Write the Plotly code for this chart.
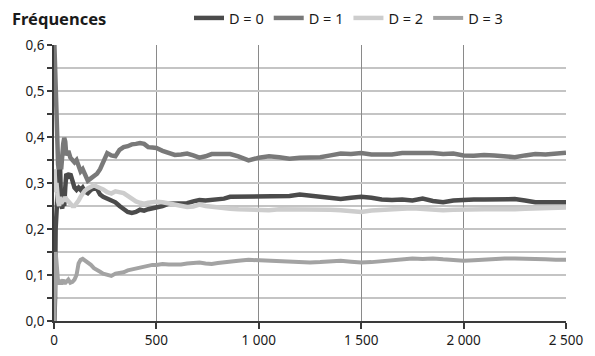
import plotly.graph_objects as go

trials = [2, 5, 8, 12, 16, 20, 25, 30, 35, 40, 45, 50, 55, 60, 70, 80, 90, 100, 110, 120,
          130, 140, 150, 165, 180, 195, 210, 225, 240, 260, 280, 300, 320, 340, 360, 380,
          400, 420, 440, 460, 480, 500, 530, 560, 590, 620, 650, 680, 710, 740, 770, 800,
          830, 860, 900, 950, 1000, 1050, 1100, 1150, 1200, 1250, 1300, 1350, 1400, 1450,
          1500, 1550, 1600, 1650, 1700, 1750, 1800, 1850, 1900, 1950, 2000, 2050, 2100,
          2150, 2200, 2250, 2300, 2350, 2400, 2450, 2500]

d0 = [0.0, 0.05, 0.2, 0.26, 0.25, 0.30, 0.345, 0.33, 0.25, 0.245, 0.26, 0.25, 0.29, 0.32,
      0.315, 0.32, 0.305, 0.29, 0.285, 0.29, 0.285, 0.29, 0.282, 0.278, 0.285, 0.288, 0.287,
      0.275, 0.27, 0.266, 0.262, 0.258, 0.25, 0.243, 0.237, 0.235, 0.237, 0.242, 0.24, 0.243,
      0.245, 0.246, 0.25, 0.255, 0.256, 0.257, 0.256, 0.26, 0.263, 0.262, 0.263, 0.264, 0.266,
      0.27, 0.27, 0.271, 0.271, 0.272, 0.27, 0.272, 0.275, 0.272, 0.27, 0.268, 0.265, 0.268,
      0.27, 0.268, 0.264, 0.263, 0.264, 0.262, 0.266, 0.261, 0.258, 0.262, 0.264, 0.264, 0.264,
      0.264, 0.265, 0.265, 0.262, 0.258, 0.258, 0.258, 0.258]

d1 = [0.60, 0.55, 0.50, 0.42, 0.36, 0.34, 0.33, 0.35, 0.33, 0.37, 0.385, 0.398, 0.39, 0.36,
      0.37, 0.355, 0.35, 0.345, 0.35, 0.335, 0.325, 0.33, 0.32, 0.305, 0.31, 0.315, 0.32,
      0.33, 0.345, 0.365, 0.36, 0.358, 0.372, 0.378, 0.38, 0.384, 0.385, 0.387, 0.385, 0.378,
      0.377, 0.376, 0.37, 0.366, 0.361, 0.362, 0.364, 0.36, 0.355, 0.358, 0.363, 0.363, 0.362,
      0.363, 0.358, 0.349, 0.355, 0.358, 0.356, 0.353, 0.355, 0.355, 0.356, 0.36, 0.364, 0.363,
      0.365, 0.362, 0.361, 0.362, 0.365, 0.366, 0.365, 0.365, 0.363, 0.364, 0.36, 0.359, 0.361,
      0.36, 0.358, 0.356, 0.36, 0.363, 0.362, 0.364, 0.366]

d2 = [0.33, 0.30, 0.28, 0.30, 0.27, 0.26, 0.25, 0.27, 0.255, 0.26, 0.265, 0.26, 0.27, 0.265,
      0.26, 0.255, 0.25, 0.25, 0.255, 0.262, 0.27, 0.278, 0.283, 0.288, 0.293, 0.295, 0.292,
      0.29, 0.286, 0.28, 0.277, 0.282, 0.28, 0.278, 0.272, 0.265, 0.26, 0.257, 0.255, 0.257,
      0.258, 0.259, 0.258, 0.255, 0.252, 0.25, 0.248, 0.249, 0.253, 0.25, 0.248, 0.247, 0.245,
      0.244, 0.243, 0.242, 0.241, 0.241, 0.243, 0.243, 0.244, 0.244, 0.244, 0.242, 0.241, 0.238,
      0.237, 0.24, 0.242, 0.243, 0.244, 0.245, 0.243, 0.241, 0.241, 0.242, 0.243, 0.243, 0.243,
      0.243, 0.242, 0.243, 0.244, 0.245, 0.245, 0.246, 0.247]

d3 = [0.0, 0.1, 0.15, 0.13, 0.1, 0.085, 0.08, 0.09, 0.08, 0.085, 0.09, 0.08, 0.088, 0.085,
      0.09, 0.083, 0.085, 0.09, 0.1, 0.125, 0.133, 0.135, 0.132, 0.127, 0.122, 0.115, 0.11,
      0.107, 0.103, 0.1, 0.098, 0.103, 0.104, 0.106, 0.11, 0.112, 0.115, 0.118, 0.12, 0.121,
      0.122, 0.122, 0.124, 0.123, 0.122, 0.123, 0.125, 0.126, 0.127, 0.125, 0.124, 0.126, 0.128,
      0.129, 0.131, 0.133, 0.132, 0.13, 0.129, 0.128, 0.128, 0.127, 0.128, 0.13, 0.131, 0.129,
      0.127, 0.128, 0.13, 0.133, 0.134, 0.136, 0.135, 0.136, 0.134, 0.132, 0.131, 0.132, 0.134,
      0.135, 0.136, 0.136, 0.136, 0.135, 0.134, 0.133, 0.133]

series_names = ["D = 0", "D = 1", "D = 2", "D = 3"]
series_colors = ["#4b4b4b", "#797979", "#cdcdcd", "#a3a3a3"]
series_widths = [4.5, 4.5, 4.5, 4]

x_ticks = [0, 500, 1000, 1500, 2000, 2500]
x_labels = ["0", "500", "1 000", "1 500", "2 000", "2 500"]
y_ticks = [0.0, 0.1, 0.2, 0.3, 0.4, 0.5, 0.6]
y_labels = ["0,0", "0,1", "0,2", "0,3", "0,4", "0,5", "0,6"]

FONT = "Noto Sans"
OFF = 8  # default page body margin

fig = go.Figure()
for name, vals, col, w in zip(series_names, [d0, d1, d2, d3], series_colors, series_widths):
    fig.add_trace(go.Scatter(x=trials, y=vals, mode="lines", name=name,
                             line=dict(color=col, width=w)))

fig.update_layout(
    width=595, height=356,
    margin=dict(l=54 - OFF, r=29 + OFF, t=45 - OFF, b=35 + OFF, autoexpand=False),
    paper_bgcolor="white", plot_bgcolor="white",
    font=dict(family=FONT, size=13.5, color="#1a1a1a"),
    showlegend=True,
    legend=dict(orientation="h", xref="container", yref="container",
                x=500 / 595, xanchor="right", y=1 - (18 - OFF) / 356, yanchor="middle",
                font=dict(size=14.5, color="#1a1a1a"), itemwidth=30,
                tracegroupgap=0, bgcolor="rgba(0,0,0,0)"),
)
fig.add_annotation(text="<b>Fréquences</b>", xref="paper", yref="paper",
                   x=(10 - 54) / 512, y=(321 - 18) / 276, xanchor="left", yanchor="middle",
                   showarrow=False, font=dict(size=16.5, color="#1a1a1a", family=FONT))

fig.update_xaxes(range=[0, 2500], tickvals=x_ticks, ticktext=x_labels,
                 showgrid=True, gridcolor="#8a8a8a", gridwidth=1,
                 showline=True, linecolor="#3a3a3a", linewidth=1.5,
                 ticks="outside", ticklen=6, tickcolor="#3a3a3a", tickwidth=1.5,
                 zeroline=False, fixedrange=True)
fig.update_yaxes(range=[0, 0.6], tickvals=y_ticks, ticktext=y_labels,
                 showgrid=True, gridcolor="#c4c4c4", gridwidth=1.5,
                 showline=True, linecolor="#3a3a3a", linewidth=1.5,
                 ticks="outside", ticklen=5, tickcolor="#3a3a3a", tickwidth=1.5,
                 minor=dict(dtick=0.05, showgrid=True, gridcolor="#c4c4c4", gridwidth=1.5,
                            ticks="outside", ticklen=5, tickcolor="#3a3a3a", tickwidth=1.5),
                 zeroline=False, fixedrange=True)

fig.write_html("out.html")
